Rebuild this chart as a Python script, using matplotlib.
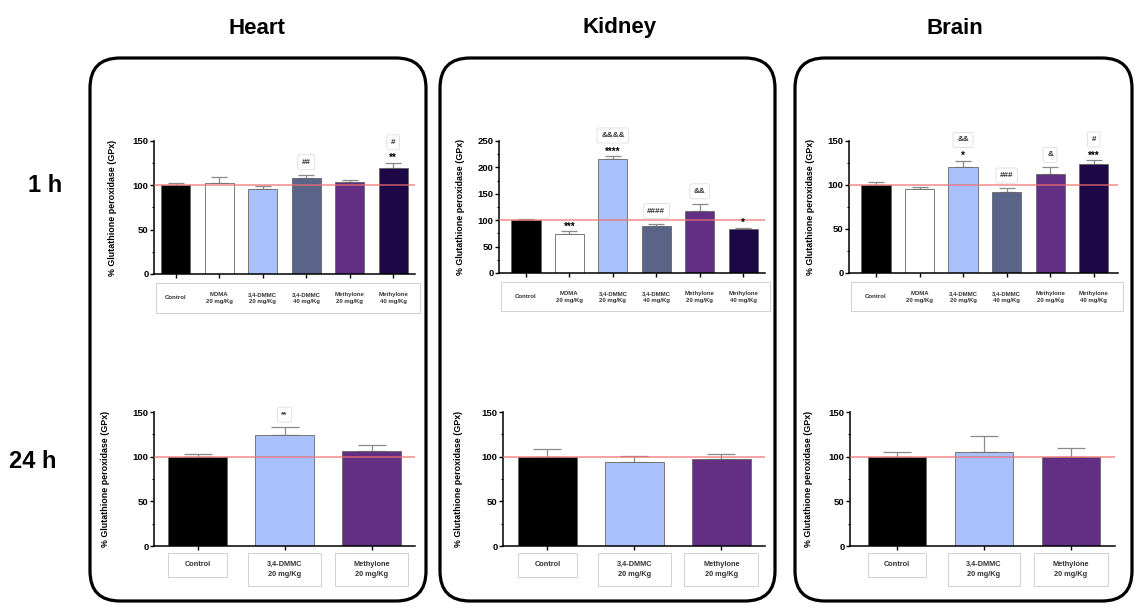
import matplotlib.pyplot as plt
from matplotlib.patches import FancyBboxPatch, Rectangle
from matplotlib.ticker import MultipleLocator
import matplotlib.transforms as mtransforms

plt.rcParams['font.family'] = ['Liberation Sans', 'DejaVu Sans']

# ---- data ----
groups_1h = ['Control', 'MDMA\n20 mg/Kg', '3,4-DMMC\n20 mg/Kg', '3,4-DMMC\n40 mg/Kg',
             'Methylone\n20 mg/Kg', 'Methylone\n40 mg/Kg']
groups_24h = ['Control', '3,4-DMMC\n20 mg/Kg', 'Methylone\n20 mg/Kg']

colors_1h = ['#000000', '#ffffff', '#aac0fb', '#5a6488', '#622f84', '#1e0747']
colors_24h = ['#000000', '#aac0fb', '#622f84']

heart_1h = [100, 103, 96, 108, 103.5, 119]
heart_1h_sem = [3, 6, 3.5, 4, 3, 6]
heart_1h_stars = ['', '', '', '', '', '**']
heart_1h_boxed = ['', '', '', '##', '', '#']

kidney_1h = [100.5, 74, 215, 89, 117, 83.5]
kidney_1h_sem = [1, 5, 6, 4.5, 14, 1.5]
kidney_1h_stars = ['', '***', '****', '', '', '*']
kidney_1h_boxed = ['', '', '&&&&', '####', '&&', '']

brain_1h = [100, 95, 120, 92, 112, 124]
brain_1h_sem = [3.5, 3, 7.5, 4.5, 8, 4]
brain_1h_stars = ['', '', '*', '', '', '***']
brain_1h_boxed = ['', '', '&&', '###', '&', '#']

heart_24h = [100, 124, 106]
heart_24h_sem = [3, 9, 7]
heart_24h_stars = ['', '', '']
heart_24h_boxed = ['', '**', '']

kidney_24h = [100, 94, 97]
kidney_24h_sem = [9, 7, 6]
kidney_24h_stars = ['', '', '']
kidney_24h_boxed = ['', '', '']

brain_24h = [100, 105.5, 100]
brain_24h_sem = [5, 17.5, 9.5]
brain_24h_stars = ['', '', '']
brain_24h_boxed = ['', '', '']

organs = ['Heart', 'Kidney', 'Brain']
rows = ['1 h', '24 h']

W, H = 1136, 608
fig = plt.figure(figsize=(W / 100, H / 100), dpi=100)

# background layer in pixel units for frames and big labels
bg = fig.add_axes([0, 0, 1, 1], zorder=-5)
bg.set_xlim(0, W)
bg.set_ylim(H, 0)
bg.axis('off')

frames = [(90, 336), (440, 335), (795, 337)]
title_x = [257, 620, 955]
for (fx, fw), tx, name in zip(frames, title_x, organs):
    bg.add_patch(FancyBboxPatch((fx, 58), fw, 543, boxstyle='round,pad=0,rounding_size=30',
                                fill=False, lw=2.3, ec='black'))
    bg.text(tx, 28, name, ha='center', va='center', fontsize=16, fontweight='bold')
bg.text(45, 186, rows[0], ha='center', va='center', fontsize=17, fontweight='bold')
bg.text(33, 462, rows[1], ha='center', va='center', fontsize=17, fontweight='bold')


def px_axes(l, t, r, b):
    return fig.add_axes([l / W, 1 - b / H, (r - l) / W, (b - t) / H])


def panel(ax, vals, sem, colors, labels, stars, boxed, ymax, xlim, label_x, cap, wide):
    x = list(range(len(vals)))
    ax.bar(x, vals, width=0.67, color=colors, edgecolor='#666666', linewidth=0.6, zorder=2)
    ax.errorbar(x, vals, yerr=[[0] * len(vals), sem], fmt='none', ecolor='#8a8a8a',
                elinewidth=0.9, capsize=cap, capthick=0.9, zorder=1)
    ax.axhline(100, color='#f07070', lw=1.2, alpha=0.75, zorder=3)
    ax.set_xlim(*xlim)
    ax.set_ylim(0, ymax)
    ax.yaxis.set_major_locator(MultipleLocator(50))
    ax.yaxis.set_minor_locator(MultipleLocator(25))
    ax.set_xticks(x)
    ax.set_xticklabels([])
    for s in ['top', 'right']:
        ax.spines[s].set_visible(False)
    for s in ['left', 'bottom']:
        ax.spines[s].set_linewidth(1.1)
    ax.tick_params(axis='both', which='major', length=3, width=1, labelsize=6.8, pad=1)
    ax.tick_params(axis='y', which='minor', length=1.8, width=0.8)
    for t in ax.get_yticklabels():
        t.set_fontweight('bold')
    ax.set_ylabel('% Glutathione peroxidase (GPx)', fontsize=6.4, fontweight='bold')
    bbox = ax.get_position()
    ax.yaxis.set_label_coords((label_x / W - bbox.x0) / bbox.width, 0.5)

    # significance marks
    for i in x:
        top = vals[i] + sem[i]
        if stars[i]:
            ax.annotate(stars[i], xy=(i, top), xytext=(0, 3.5), textcoords='offset points',
                        ha='center', va='center', fontsize=7, fontweight='bold',
                        annotation_clip=False)
        if boxed[i]:
            off = 15 if stars[i] else 9
            ax.annotate(boxed[i], xy=(i, top), xytext=(0, off), textcoords='offset points',
                        ha='center', va='center', fontsize=5.8, fontweight='bold',
                        color='#333333', annotation_clip=False,
                        bbox=dict(boxstyle='round,pad=0.5,rounding_size=0.25', fc='white',
                                  ec='#dddddd', lw=0.6))

    # category label boxes
    blend = mtransforms.blended_transform_factory(ax.transData, ax.transAxes)
    if wide:
        ax.add_patch(Rectangle((0.008, -0.29), 1.01, 0.222, transform=ax.transAxes,
                               fill=False, ec='#d0d0d0', lw=0.7, clip_on=False))
        for i in x:
            ax.text(i, -0.18, labels[i], transform=blend, ha='center', va='center',
                    fontsize=4.3, fontweight='bold', color='#333333', linespacing=1.5)
    else:
        widths = [0.67, 0.83, 0.85]
        for i in x:
            bottom = -0.23 if i == 0 else -0.30
            ax.add_patch(Rectangle((i - widths[i] / 2, bottom), widths[i], -0.052 - bottom,
                                   transform=blend, fill=False, ec='#d0d0d0', lw=0.7,
                                   clip_on=False))
            ax.text(i, (bottom - 0.052) / 2, labels[i], transform=blend, ha='center',
                    va='center', fontsize=5.3, fontweight='bold', color='#333333',
                    linespacing=1.5)


# 1 h row
panel(px_axes(154, 141, 415, 274), heart_1h, heart_1h_sem, colors_1h, groups_1h,
      heart_1h_stars, heart_1h_boxed, 150, (-0.5, 5.5), 117, 6, True)
panel(px_axes(499, 141, 765, 273), kidney_1h, kidney_1h_sem, colors_1h, groups_1h,
      kidney_1h_stars, kidney_1h_boxed, 250, (-0.62, 5.5), 465, 6, True)
panel(px_axes(849, 141, 1118, 273), brain_1h, brain_1h_sem, colors_1h, groups_1h,
      brain_1h_stars, brain_1h_boxed, 150, (-0.62, 5.56), 815, 6, True)

# 24 h row
panel(px_axes(154, 412, 415, 546), heart_24h, heart_24h_sem, colors_24h, groups_24h,
      heart_24h_stars, heart_24h_boxed, 150, (-0.5, 2.5), 110, 10, False)
panel(px_axes(503, 412, 765, 546), kidney_24h, kidney_24h_sem, colors_24h, groups_24h,
      kidney_24h_stars, kidney_24h_boxed, 150, (-0.51, 2.5), 463, 10, False)
panel(px_axes(850, 412, 1115, 546), brain_24h, brain_24h_sem, colors_24h, groups_24h,
      brain_24h_stars, brain_24h_boxed, 150, (-0.54, 2.51), 813, 10, False)

fig.savefig('out.png', dpi=100)
